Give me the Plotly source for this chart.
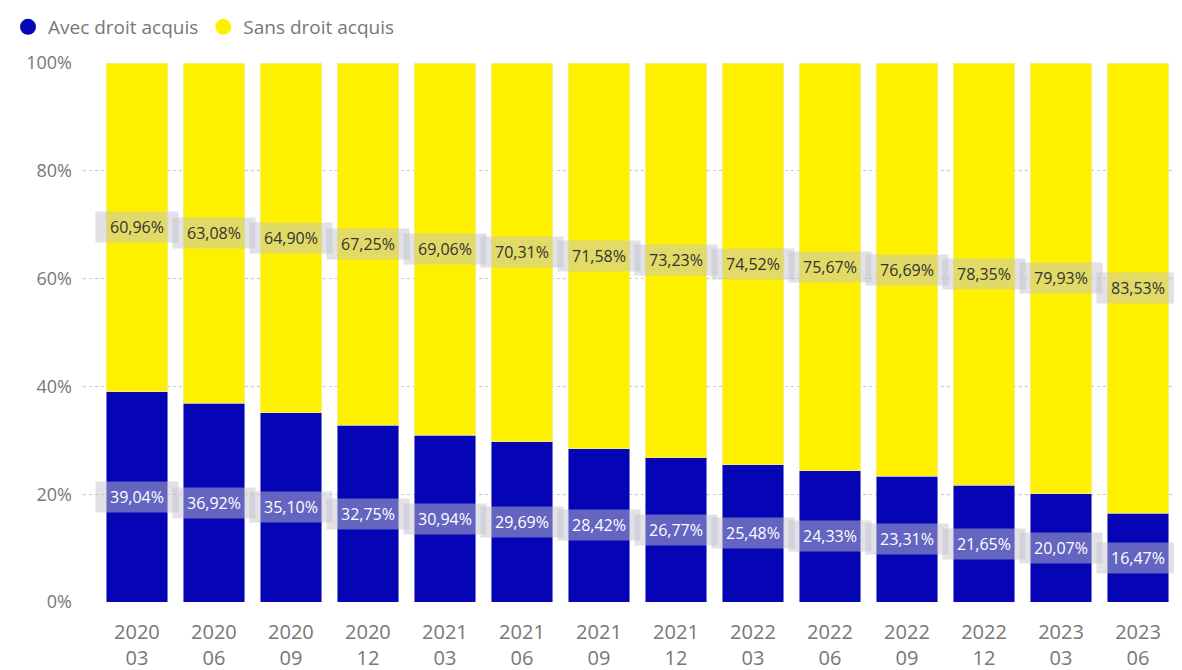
import plotly.graph_objects as go

periods = ["2020<br>03", "2020<br>06", "2020<br>09", "2020<br>12",
           "2021<br>03", "2021<br>06", "2021<br>09", "2021<br>12",
           "2022<br>03", "2022<br>06", "2022<br>09", "2022<br>12",
           "2023<br>03", "2023<br>06"]
avec = [39.04, 36.92, 35.10, 32.75, 30.94, 29.69, 28.42, 26.77, 25.48, 24.33, 23.31, 21.65, 20.07, 16.47]
sans = [60.96, 63.08, 64.90, 67.25, 69.06, 70.31, 71.58, 73.23, 74.52, 75.67, 76.69, 78.35, 79.93, 83.53]
series_names = ["Avec droit acquis", "Sans droit acquis"]
y_ticks = [0, 20, 40, 60, 80, 100]
y_tick_labels = [f"{v}%" for v in y_ticks]

BLUE = "#0505b5"
YELLOW = "#fff000"
FONT = "Open Sans, Noto Sans, sans-serif"

def fmt(v):
    return f"{v:.2f}".replace(".", ",") + "%"

fig = go.Figure()
fig.add_trace(go.Bar(x=periods, y=avec, name=series_names[0], marker_color=BLUE,
                     showlegend=False))
fig.add_trace(go.Bar(x=periods, y=sans, name=series_names[1], marker_color=YELLOW,
                     showlegend=False))
# legend-only circle markers
for nm, col in zip(series_names, [BLUE, YELLOW]):
    fig.add_trace(go.Scatter(x=[None], y=[None], mode="markers", name=nm,
                             marker=dict(color=col, size=17, symbol="circle")))

annotations = []
for p, a, s in zip(periods, avec, sans):
    annotations.append(dict(x=p, y=a / 2, text=fmt(a), showarrow=False,
                            font=dict(color="white", size=16, family=FONT),
                            bgcolor="rgba(195,195,205,0.5)", width=80, height=28))
    annotations.append(dict(x=p, y=a + s / 2, text=fmt(s), showarrow=False,
                            font=dict(color="#333333", size=16, family=FONT),
                            bgcolor="rgba(195,195,205,0.5)", width=80, height=28))

fig.update_layout(
    width=1182, height=670,
    barmode="stack", bargap=0.2,
    plot_bgcolor="white", paper_bgcolor="white",
    margin=dict(l=75, r=0, t=55, b=76),
    font=dict(family=FONT, color="#777777", size=16),
    showlegend=True,
    legend=dict(orientation="h", xref="paper", yref="container",
                x=-0.0768, y=1.0, xanchor="left", yanchor="top",
                traceorder="normal",
                font=dict(size=19, color="#777777"),
                tracegroupgap=0, bgcolor="rgba(0,0,0,0)"),
    annotations=annotations,
    xaxis=dict(range=[-0.70, 13.675], showgrid=False, showline=False, ticks="",
               ticklabelstandoff=16,
               tickfont=dict(size=20, color="#777777")),
    yaxis=dict(range=[0, 100], tickvals=y_ticks, ticktext=y_tick_labels,
               showgrid=True, gridcolor="#c8c8c8", griddash="dot", gridwidth=1,
               zeroline=False, showline=False, ticks="",
               ticklabelstandoff=10,
               tickfont=dict(size=18, color="#777777")),
)

fig.write_html("out.html")
